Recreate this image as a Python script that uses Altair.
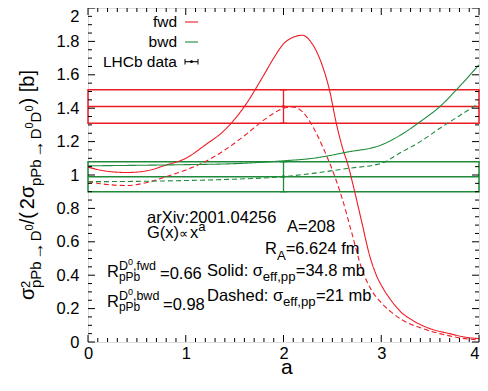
import altair as alt
import pandas as pd

# ---------------- data ----------------
a_fwd_solid = [0, 0.2, 0.4, 0.6, 0.8, 1.0, 1.2, 1.4, 1.6, 1.8, 1.9, 2.0, 2.1, 2.19, 2.3, 2.4,
               2.47, 2.54, 2.6, 2.66, 2.72, 2.8, 2.88, 2.95, 3.02, 3.1, 3.2, 3.32, 3.5, 3.7, 3.85, 4.0]
y_fwd_solid = [1.047, 1.022, 1.015, 1.025, 1.06, 1.10, 1.18, 1.27, 1.41, 1.60, 1.70, 1.785, 1.825,
               1.837, 1.78, 1.65, 1.51, 1.31, 1.17, 1.06, 0.92, 0.72, 0.52, 0.40, 0.32, 0.25, 0.18,
               0.13, 0.08, 0.05, 0.03, 0.02]

a_fwd_dash = [0, 0.2, 0.4, 0.6, 0.8, 1.0, 1.2, 1.4, 1.6, 1.8, 1.9, 2.0, 2.09, 2.2, 2.3, 2.4, 2.5,
              2.6, 2.7, 2.8, 2.9, 3.0, 3.1, 3.22, 3.4, 3.6, 3.8, 4.0]
y_fwd_dash = [0.96, 0.943, 0.937, 0.955, 0.99, 1.03, 1.08, 1.15, 1.235, 1.33, 1.37, 1.40, 1.408,
              1.375, 1.29, 1.17, 1.03, 0.86, 0.65, 0.44, 0.31, 0.235, 0.18, 0.13, 0.085, 0.05,
              0.025, 0.012]

a_bwd_solid = [0, 0.5, 1.0, 1.5, 2.0, 2.3, 2.65, 3.0, 3.2, 3.4, 3.6, 3.8, 4.0]
y_bwd_solid = [1.055, 1.058, 1.062, 1.068, 1.085, 1.10, 1.137, 1.18, 1.24, 1.32, 1.41, 1.53, 1.66]

a_bwd_dash = [0, 0.5, 1.0, 1.5, 2.0, 2.3, 2.65, 3.0, 3.2, 3.4, 3.6, 3.8, 4.0]
y_bwd_dash = [0.96, 0.962, 0.967, 0.975, 0.99, 1.01, 1.039, 1.07, 1.135, 1.20, 1.28, 1.355, 1.43]

band_series = ["fwd", "bwd"]
band_center = [1.41, 0.99]
band_low = [1.31, 0.90]
band_high = [1.51, 1.08]
band_a0 = [0, 0]
band_a1 = [4, 4]
data_a = [2.0, 2.0]

x_tick_values = [0, 1, 2, 3, 4]
y_tick_values = [0, 0.2, 0.4, 0.6, 0.8, 1, 1.2, 1.4, 1.6, 1.8, 2]

# ---------------- styling / layout ----------------
RED = "#ec1c24"
GREEN = "#1e8a3a"
SERIES_COLOR = {"fwd": RED, "bwd": GREEN}
W, H = 391, 334
OX, OY = 88, 8
FONT = "Liberation Sans"

xs = alt.Scale(domain=[0, 4], nice=False, zero=False)
ys = alt.Scale(domain=[0, 2], nice=False, zero=False)
col = alt.Scale(domain=["fwd", "bwd"], range=[RED, GREEN])
dash = alt.Scale(domain=["solid", "dashed"], range=[[1, 0], [5, 3]])

XAX = alt.Axis(values=x_tick_values, format="~g", ticks=False, domain=False, grid=False,
               labelFontSize=16.5, labelPadding=3, labelFlush=False, labelColor="black",
               title=None, labelFont=FONT, labelOverlap=False,
               labelAlign=alt.condition("datum.value == 4", alt.value("right"), alt.value("center")))
YAX = alt.Axis(values=y_tick_values, format="~g", ticks=False, domain=False, grid=False,
               labelFontSize=16.5, labelPadding=9, labelFlush=False, labelColor="black",
               title=None, labelFont=FONT, labelOverlap=False,
               labelBaseline=alt.condition("datum.value == 2", alt.value("top"), alt.value("middle")))


def X(f):
    return alt.X(f, scale=xs, axis=XAX)


def Y(f):
    return alt.Y(f, scale=ys, axis=YAX)


# page pixel -> data coordinates (for decorations placed by pixel)
def pa(px):
    return (px - OX) / W * 4.0


def py(pyv):
    return 2.0 - (pyv - OY) / H * 2.0


rows = []
for series, style, xa, ya in [("fwd", "solid", a_fwd_solid, y_fwd_solid),
                              ("fwd", "dashed", a_fwd_dash, y_fwd_dash),
                              ("bwd", "solid", a_bwd_solid, y_bwd_solid),
                              ("bwd", "dashed", a_bwd_dash, y_bwd_dash)]:
    for a, y in zip(xa, ya):
        rows.append({"a": a, "y": y, "series": series, "style": style})
curves_df = pd.DataFrame(rows)

band_df = pd.DataFrame({"series": band_series, "c": band_center, "lo": band_low,
                        "hi": band_high, "a0": band_a0, "a1": band_a1, "ad": data_a})

curves = alt.Chart(curves_df).mark_line(strokeWidth=1.1, interpolate="monotone").encode(
    x=X("a:Q"), y=Y("y:Q"),
    color=alt.Color("series:N", scale=col, legend=None),
    strokeDash=alt.StrokeDash("style:N", scale=dash, legend=None),
    detail="style:N",
)

band_layers = []
for s in band_series:
    sub = band_df[band_df["series"] == s]
    c = SERIES_COLOR[s]
    base = alt.Chart(sub)
    band_layers += [
        base.mark_rect(fillOpacity=0, stroke=c, strokeWidth=1.5).encode(
            x=X("a0:Q"), x2="a1:Q", y=Y("lo:Q"), y2="hi:Q"),
        base.mark_rule(color=c, strokeWidth=1.5).encode(x=X("a0:Q"), x2="a1:Q", y=Y("c:Q")),
    ]

ebar_layers = []
for s in band_series:
    sub = band_df[band_df["series"] == s]
    c = SERIES_COLOR[s]
    base = alt.Chart(sub)
    ebar_layers += [
        base.mark_rule(color=c, strokeWidth=1.3).encode(x=X("ad:Q"), y=Y("lo:Q"), y2="hi:Q"),
        base.mark_tick(color=c, orient="horizontal", size=7, thickness=1.3, opacity=1).encode(
            x=X("ad:Q"), y=Y("hi:Q")),
        base.mark_tick(color=c, orient="horizontal", size=7, thickness=1.3, opacity=1).encode(
            x=X("ad:Q"), y=Y("lo:Q")),
        base.mark_point(color=c, filled=True, size=10, opacity=1).encode(x=X("ad:Q"), y=Y("c:Q")),
    ]

# ---------------- inward ticks on all four sides ----------------
x_minor = [round(i * 0.1, 2) for i in range(1, 40) if i % 10]
y_minor = [round(i * 0.05, 3) for i in range(1, 40) if i % 4]


def tick_layer(vals, side, length):
    df = pd.DataFrame({"v": vals})
    m = alt.Chart(df).mark_rule(color="black", strokeWidth=1)
    if side == "bottom":
        return m.encode(x=X("v:Q"), y=alt.value(H), y2=alt.value(H - length))
    if side == "top":
        return m.encode(x=X("v:Q"), y=alt.value(0), y2=alt.value(length))
    if side == "left":
        return m.encode(y=Y("v:Q"), x=alt.value(0), x2=alt.value(length))
    return m.encode(y=Y("v:Q"), x=alt.value(W), x2=alt.value(W - length))


ticks = []
for side in ["bottom", "top"]:
    ticks.append(tick_layer(x_tick_values, side, 7))
    ticks.append(tick_layer(x_minor, side, 4))
for side in ["left", "right"]:
    ticks.append(tick_layer(y_tick_values, side, 7))
    ticks.append(tick_layer(y_minor, side, 4))

# ---------------- text pieces (sub/superscripts) ----------------
W_EM = {' ': 0.278, '(': 0.333, ')': 0.333, ',': 0.278, '.': 0.278, ':': 0.278, '=': 0.584,
        'A': 0.667, 'D': 0.722, 'G': 0.778, 'P': 0.667, 'R': 0.722, 'S': 0.667, 'X': 0.667,
        'a': 0.556, 'b': 0.556, 'd': 0.556, 'e': 0.556, 'f': 0.278, 'h': 0.556, 'i': 0.222,
        'l': 0.222, 'm': 0.833, 'o': 0.556, 'p': 0.556, 'r': 0.333, 's': 0.5, 'v': 0.5,
        'w': 0.722, 'x': 0.5, '[': 0.278, ']': 0.278, '/': 0.278,
        '\u03c3': 0.6, '\u221d': 0.838, '\u2192': 1.0}


def tw(s, fs):
    return sum(W_EM.get(ch, 0.556) for ch in s) * fs


ann = []


def run(x, y, parts):
    for t, fs, rise in parts:
        ann.append({"ta": pa(x), "ty": py(y - rise), "t": t, "fs": fs})
        x += tw(t, fs)
    return x


M = 16.5
SB = 13.2
run(147, 223, [("arXiv:2001.04256", M, 0)])
run(147, 238, [("G(x)", M, 0), ("\u221d", 13, 0), ("x", M, 0), ("a", SB, 7)])
run(287, 232, [("A=208", M, 0)])
run(265, 254, [("R", M, 0), ("A", SB, -5.5), ("=6.624 fm", M, 0)])
run(207, 276, [("Solid: \u03c3", M, 0), ("eff,pp", SB, -5), ("=34.8 mb", M, 0)])
run(207, 300.5, [("Dashed: \u03c3", M, 0), ("eff,pp", SB, -5), ("=21 mb", M, 0)])
for yb, sup, val, xeq, yeq in [(277, ",fwd", "=0.66", 160, 278.5), (307, ",bwd", "=0.98", 163, 310)]:
    x1 = run(107, yb, [("R", M, 0)])
    run(x1, yb, [("D", 12.5, 7.5), ("0", 9, 12.5), (sup, 12.5, 7.5)])
    run(x1, yb, [("pPb", 12, -4)])
    run(xeq, yeq, [(val, M, 0)])
run(281, 374, [("a", 21, 0)])

ann_df = pd.DataFrame(ann)
texts = alt.Chart(ann_df).mark_text(align="left", baseline="alphabetic", font=FONT, color="black").encode(
    x=X("ta:Q"), y=Y("ty:Q"), text="t:N", size=alt.Size("fs:Q", scale=None),
)

# ---------------- rotated y title, laid out bottom to top ----------------
S_MAIN, S_SUB, S_SS, S_SUP = 20, 15, 11, 13
BASE_X = 33.5
SUB_X = 41
SS_X = 33
SUP_X = 29.5
ARROW_ADV = 20
yt = []
cur = 300.0


def put(t, fs, bx, adv=None, shift=0.0):
    global cur
    yt.append({"ta": pa(bx), "ty": py(cur - shift), "t": t, "fs": fs})
    cur -= tw(t, fs) if adv is None else adv


put("\u03c3", S_MAIN, BASE_X)
yt.append({"ta": pa(SUP_X), "ty": py(cur), "t": "2", "fs": S_SUP})
for block in [["D", "0"], ["D", "0", "D", "0"]]:
    put("pPb", S_SUB, SUB_X)
    put("\u2192", 18, SUB_X + 2, adv=ARROW_ADV, shift=1)
    for t in block:
        if t == "D":
            put("D", S_SUB, SUB_X)
        else:
            put("0", S_SS, SS_X)
    if len(block) == 2:
        put("/(", S_MAIN, BASE_X)
        cur -= 3
        put("2\u03c3", S_MAIN, BASE_X)
cur -= 1
put(") [b]", S_MAIN, BASE_X)

yt_df = pd.DataFrame(yt)
ytext = alt.Chart(yt_df).mark_text(align="left", baseline="alphabetic", angle=270, font=FONT,
                                   color="black").encode(
    x=X("ta:Q"), y=Y("ty:Q"), text="t:N", size=alt.Size("fs:Q", scale=None),
)

# ---------------- key ----------------
key_labels = ["fwd", "bwd", "LHCb data"]
key_colors = [RED, GREEN, "black"]
key_base = [26.5, 47, 67]
key_line_y = [22, 42, 61.7]
key_df = pd.DataFrame({"t": key_labels, "ta": [pa(177)] * 3, "ty": [py(b) for b in key_base],
                       "c": key_colors, "x1": [pa(185)] * 3, "x2": [pa(198)] * 3,
                       "ly": [py(v) for v in key_line_y]})
key_text = alt.Chart(key_df).mark_text(align="right", baseline="alphabetic", font=FONT, fontSize=15.5,
                                       color="black").encode(
    x=X("ta:Q"), y=Y("ty:Q"), text="t:N")
key_lines = alt.Chart(key_df).mark_rule(strokeWidth=1.1).encode(
    x=X("x1:Q"), x2="x2:Q", y=Y("ly:Q"), color=alt.Color("c:N", scale=None))
cap_df = pd.DataFrame({"cx": [pa(185), pa(198)], "cy1": [py(59)] * 2, "cy2": [py(64.5)] * 2})
key_caps = alt.Chart(cap_df).mark_rule(strokeWidth=1, color="black").encode(
    x=X("cx:Q"), y=Y("cy1:Q"), y2="cy2:Q")
key_dot = alt.Chart(pd.DataFrame({"cx": [pa(191.5)], "cy": [py(61.7)]})).mark_point(
    filled=True, size=8, color="black", opacity=1).encode(x=X("cx:Q"), y=Y("cy:Q"))

chart = alt.layer(
    *band_layers, curves, *ebar_layers, *ticks,
    texts, ytext, key_text, key_lines, key_caps, key_dot,
).properties(
    width=W, height=H,
    autosize=alt.AutoSizeParams(type="none"),
    padding={"left": 80, "top": 0, "right": 1, "bottom": 37},
).configure_view(stroke="black", strokeWidth=1).configure(font=FONT)

chart.save("out.html", embed_options={"renderer": "svg", "actions": False})
